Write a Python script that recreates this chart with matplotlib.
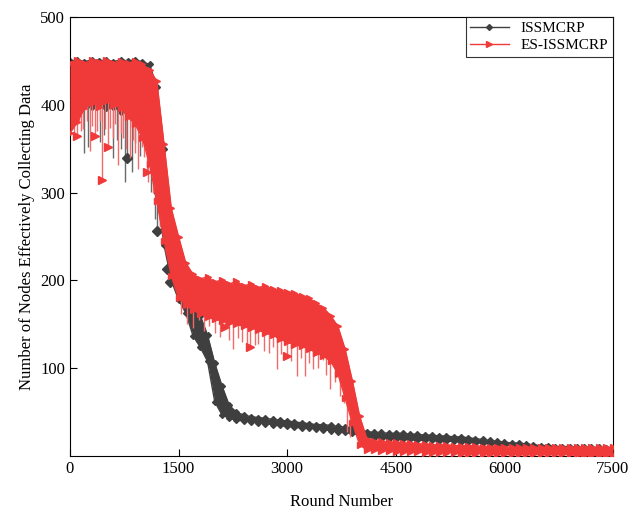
import numpy as np
import matplotlib.pyplot as plt

plt.rcParams['font.family'] = ['Liberation Serif', 'DejaVu Serif']

# round numbers for the band edges (every 100 rounds)
rounds = np.arange(0, 7501, 100)

# ES-ISSMCRP band (upper / lower edge of the dense noisy trace)
es_hi = [
    448, 451, 447, 451, 449, 451, 448, 450, 447, 450,
    446, 440, 427, 355, 282, 250, 220, 207, 202, 204,
    198, 201, 196, 199, 194, 196, 192, 194, 190, 189,
    187, 186, 182, 180, 174, 169, 160, 148, 122, 86,
    46, 20, 17, 17, 16, 16, 15, 15, 14, 14,
    13, 13, 13, 12, 12, 12, 12, 11, 11, 11,
    11, 10, 10, 10, 10, 10, 10, 10, 10, 10,
    10, 10, 10, 10, 10, 10,
]
es_lo = [
    368, 380, 396, 402, 398, 404, 400, 396, 386, 378,
    362, 332, 290, 245, 205, 180, 172, 166, 162, 158,
    156, 154, 152, 150, 148, 146, 144, 140, 138, 133,
    130, 127, 125, 122, 118, 114, 108, 94, 66, 38,
    13, 7, 7, 6, 6, 5, 5, 5, 5, 4,
    4, 4, 4, 4, 3, 3, 3, 3, 3, 3,
    2, 2, 2, 2, 2, 2, 2, 2, 2, 2,
    1, 1, 1, 1, 1, 1,
]

# ISSMCRP band
is_hi = [
    450, 451, 449, 451, 450, 451, 449, 451, 450, 451,
    449, 446, 420, 350, 262, 202, 185, 172, 160, 138,
    106, 80, 58, 50, 47, 45, 44, 43, 42, 41,
    40, 39, 38, 37, 36, 36, 35, 34, 33, 32,
    30, 28, 27, 27, 26, 26, 26, 25, 25, 24,
    24, 23, 23, 22, 22, 21, 20, 19, 18, 17,
    16, 15, 15, 14, 13, 12, 12, 11, 11, 11,
    10, 10, 10, 10, 9, 9,
]
is_lo = [
    392, 396, 400, 398, 401, 396, 398, 392, 390, 388,
    380, 350, 300, 240, 200, 178, 163, 137, 124, 108,
    62, 47, 43, 41, 40, 39, 38, 37, 36, 35,
    34, 33, 32, 32, 31, 30, 29, 28, 27, 26,
    24, 22, 21, 20, 20, 19, 19, 19, 18, 18,
    18, 17, 17, 17, 16, 16, 15, 15, 14, 13,
    13, 12, 12, 11, 11, 10, 10, 9, 9, 9,
    8, 8, 8, 7, 7, 7,
]

# isolated downward spikes of ES-ISSMCRP: round, lowest value, top of spike
es_spike_x = [30, 60, 97, 130, 155, 180, 230, 276, 300, 345, 380, 410, 442, 480,
              525, 560, 594, 620, 663, 700, 732, 780, 829, 870, 900, 939, 990,
              1020, 1063, 1077, 1150, 1250, 1330,
              1530, 1620, 1700, 1780, 1850, 1920, 2000, 2070, 2141, 2200, 2250,
              2320, 2380, 2440, 2486, 2550, 2600, 2680, 2750, 2800, 2859, 2920,
              2997, 3060, 3135, 3190, 3246, 3300, 3356, 3420, 3494, 3540, 3591,
              3660, 3729, 3780, 3826, 3867]
es_spike_lo = [375, 362, 365, 380, 370, 372, 382, 347, 376, 364, 370, 382, 312, 372,
               352, 374, 362, 378, 331, 368, 362, 350, 339, 360, 345, 327, 352,
               340, 324, 312, 300, 262, 230,
               162, 150, 146, 155, 142, 148, 140, 136, 147, 132, 122,
               135, 130, 128, 124, 126, 128, 120, 118, 124, 99, 116,
               114, 108, 91, 112, 91, 106, 99, 100, 110, 92, 76,
               84, 68, 60, 27, 22]
es_spike_top = ([430] * 30 + [420, 380, 300] + [185] * 20 + [150] * 13
                + [130, 110, 100, 80, 70])
es_tri_x = [97, 345, 442, 525, 1063, 2141, 2486, 2997]
es_tri_y = [365, 364, 314, 352, 324, 147, 124, 114]

# isolated downward spikes of ISSMCRP
is_spike_x = [200, 250, 414, 470, 594, 650, 700, 760, 787, 856, 900, 967, 1036,
              1120, 1180, 1200, 1240]
is_spike_lo = [345, 352, 358, 366, 339, 360, 350, 312, 339, 324, 356, 342, 362,
               301, 270, 259, 262]
is_spike_top = [430] * 13 + [430, 420, 400, 380]
is_dia_x = [787, 1200, 1340, 1381]
is_dia_y = [339, 256, 213, 198]

c_is = '#3f3f3f'
c_es = '#f03a3a'

fig = plt.figure(figsize=(6.3, 5.12), dpi=100)
ax = fig.add_axes([0.111, 0.109, 0.862, 0.858])

# ISSMCRP
ax.vlines(is_spike_x, is_spike_lo, is_spike_top, color='#6a6a6a', lw=1.0, zorder=1.5)
ax.fill_between(rounds, is_lo, is_hi, color=c_is, lw=0, zorder=2)
ax.plot(rounds, is_hi, color=c_is, lw=1, marker='D', ms=3, zorder=2,
        label='ISSMCRP')
ax.plot(rounds, is_lo, color=c_is, lw=1, marker='D', ms=3, zorder=2)
ax.plot(is_dia_x, is_dia_y, ls='none', color=c_is, marker='D', ms=5, zorder=2)

# ES-ISSMCRP
ax.vlines(es_spike_x, es_spike_lo, es_spike_top, color='#f26a6a', lw=1.0, zorder=2.5)
ax.fill_between(rounds, es_lo, es_hi, color=c_es, lw=0, zorder=3)
ax.plot(rounds, es_hi, color=c_es, lw=1, marker='>', ms=4, zorder=3,
        label='ES-ISSMCRP')
ax.plot(rounds, es_lo, color=c_es, lw=1, marker='>', ms=4, zorder=3)
ax.plot(es_tri_x, es_tri_y, ls='none', color=c_es, marker='>', ms=6, zorder=3)

ax.set_xlim(0, 7500)
ax.set_ylim(0, 500)
ax.set_xticks([0, 1500, 3000, 4500, 6000, 7500])
ax.set_yticks([100, 200, 300, 400, 500])
ax.tick_params(direction='in', labelsize=12, length=5)
ax.set_xlabel('Round Number', fontsize=12, labelpad=12)
ax.set_ylabel('Number of Nodes Effectively Collecting Data', fontsize=12)

leg = ax.legend(loc='upper right', fontsize=11, fancybox=False,
                edgecolor='black', borderaxespad=0, handlelength=2.5,
                borderpad=0.3, labelspacing=0.2)
leg.get_frame().set_linewidth(0.8)
leg.set_zorder(5)

fig.savefig('out.png', dpi=100)
